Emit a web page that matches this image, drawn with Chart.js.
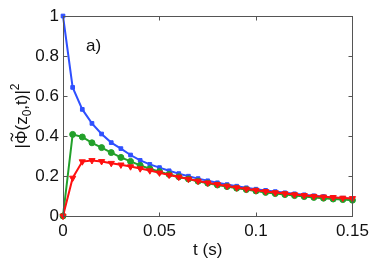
<!DOCTYPE html>
<html>
<head>
<meta charset="utf-8">
<script src="https://cdn.jsdelivr.net/npm/chart.js@4/dist/chart.umd.min.js"></script>
<style>
  html, body { margin: 0; padding: 0; background: #fff; }
  #wrap { width: 374px; height: 260px; }
</style>
</head>
<body>
<div id="wrap"><canvas id="c" width="374" height="260"></canvas></div>
<script>
// time axis (s) and |Phi~(z0,t)|^2 curves
const tValues = [0, 0.005, 0.01, 0.015, 0.02, 0.025, 0.03, 0.035, 0.04, 0.045, 0.05,
  0.055, 0.06, 0.065, 0.07, 0.075, 0.08, 0.085, 0.09, 0.095, 0.1,
  0.105, 0.11, 0.115, 0.12, 0.125, 0.13, 0.135, 0.14, 0.145, 0.15];

const blueVals = [1.0, 0.643, 0.533, 0.463, 0.41, 0.367, 0.337, 0.305, 0.278, 0.258, 0.242,
  0.226, 0.212, 0.199, 0.187, 0.176, 0.166, 0.157, 0.149, 0.141, 0.134,
  0.128, 0.122, 0.116, 0.111, 0.106, 0.101, 0.097, 0.093, 0.089, 0.086];

const greenVals = [0, 0.408, 0.395, 0.366, 0.342, 0.317, 0.293, 0.273, 0.253, 0.236, 0.222,
  0.208, 0.196, 0.185, 0.174, 0.164, 0.155, 0.147, 0.139, 0.132, 0.125,
  0.118, 0.112, 0.107, 0.102, 0.097, 0.093, 0.089, 0.085, 0.082, 0.079];

const redVals = [0, 0.19, 0.272, 0.278, 0.273, 0.264, 0.256, 0.247, 0.237, 0.227, 0.216,
  0.205, 0.195, 0.185, 0.175, 0.166, 0.158, 0.15, 0.142, 0.135, 0.129,
  0.123, 0.117, 0.112, 0.107, 0.103, 0.099, 0.096, 0.093, 0.09, 0.088];

const xTicks = [0, 0.05, 0.1, 0.15];
const yTicks = [0, 0.2, 0.4, 0.6, 0.8, 1];

const FONT = "'Liberation Sans', Arial, Helvetica, sans-serif";
const COLORS = { blue: "#2f50ff", green: "#22a02a", red: "#ff1010", axis: "#555", text: "#111" };

Chart.defaults.animation = false;
Chart.defaults.font.family = FONT;
Chart.defaults.color = COLORS.text;

function pts(vals) {
  return tValues.map((t, i) => ({ x: t, y: vals[i] }));
}

function series(vals, color, style, radius, order, rotation) {
  return {
    data: pts(vals),
    borderColor: color,
    backgroundColor: color,
    borderWidth: 2,
    pointStyle: style,
    pointRadius: radius,
    pointRotation: rotation || 0,
    pointBorderWidth: 1,
    order: order,
    clip: false,
  };
}

// box, inward ticks and the axis titles
const framePlugin = {
  id: "frame",
  afterDraw(chart) {
    const { ctx, chartArea: a, scales } = chart;
    ctx.save();
    ctx.strokeStyle = COLORS.axis;
    ctx.lineWidth = 1;
    const L = Math.round(a.left) + 0.5, R = Math.round(a.right) + 0.5;
    const T = Math.round(a.top) + 0.5, B = Math.round(a.bottom) + 0.5;
    ctx.strokeRect(L, T, R - L, B - T);
    ctx.beginPath();
    for (const v of xTicks) {
      const px = Math.round(scales.x.getPixelForValue(v)) + 0.5;
      ctx.moveTo(px, B); ctx.lineTo(px, B - 4);
      ctx.moveTo(px, T); ctx.lineTo(px, T + 4);
    }
    for (const v of yTicks) {
      const py = Math.round(scales.y.getPixelForValue(v)) + 0.5;
      ctx.moveTo(L, py); ctx.lineTo(L + 4, py);
      ctx.moveTo(R, py); ctx.lineTo(R - 4, py);
    }
    ctx.stroke();

    ctx.fillStyle = COLORS.text;
    ctx.font = "17px " + FONT;
    ctx.textBaseline = "middle";
    ctx.textAlign = "center";
    ctx.fillText("t (s)", (a.left + a.right) / 2, 250);

    ctx.textAlign = "left";
    ctx.fillText("a)", 86, 46);

    // y title: |Φ~(z0,t)|^2, rotated
    const segs = [
      { s: "|\u03a6", size: 17, dy: 0 },
      { s: "(z", size: 17, dy: 0 },
      { s: "0", size: 12, dy: 4 },
      { s: ",t)|", size: 17, dy: 0 },
      { s: "2", size: 12, dy: -8 },
    ];
    ctx.textBaseline = "alphabetic";
    let total = 0;
    for (const g of segs) {
      ctx.font = g.size + "px " + FONT;
      g.w = ctx.measureText(g.s).width;
      total += g.w;
    }
    ctx.translate(27, (a.top + a.bottom) / 2);
    ctx.rotate(-Math.PI / 2);
    let x = -total / 2;
    for (const g of segs) {
      ctx.font = g.size + "px " + FONT;
      ctx.fillText(g.s, x, g.dy);
      if (g.s === "|\u03a6") {
        ctx.font = "17px " + FONT;
        const barW = ctx.measureText("|").width;
        const phiW = ctx.measureText("\u03a6").width;
        const cx = x + barW + phiW / 2;
        // small tilde over the Phi
        ctx.beginPath();
        ctx.lineWidth = 1.2;
        ctx.strokeStyle = COLORS.text;
        ctx.moveTo(cx - 4, -14.5);
        ctx.bezierCurveTo(cx - 2, -17.5, cx, -15, cx + 1, -14.5);
        ctx.bezierCurveTo(cx + 2, -14, cx + 3, -14, cx + 4, -16.5);
        ctx.stroke();
      }
      x += g.w;
    }
    ctx.restore();
  },
};

new Chart(document.getElementById("c"), {
  type: "line",
  data: {
    datasets: [
      series(blueVals, COLORS.blue, "rect", 2.6, 3),
      series(greenVals, COLORS.green, "circle", 3, 2),
      series(redVals, COLORS.red, "triangle", 3.6, 1, 180),
    ],
  },
  options: {
    responsive: false,
    layout: { padding: { top: 16, right: 21, left: 0, bottom: 0 } },
    plugins: { legend: { display: false }, tooltip: { enabled: false } },
    scales: {
      x: {
        type: "linear",
        min: 0,
        max: 0.15,
        grid: { display: false, drawTicks: false },
        border: { display: false },
        afterBuildTicks: (s) => { s.ticks = xTicks.map((v) => ({ value: v })); },
        afterFit: (s) => { s.height = 44; },
        ticks: { font: { size: 17 }, padding: 5, maxRotation: 0, callback: (v) => String(v) },
      },
      y: {
        min: 0,
        max: 1,
        grid: { display: false, drawTicks: false },
        border: { display: false },
        afterBuildTicks: (s) => { s.ticks = yTicks.map((v) => ({ value: v })); },
        afterFit: (s) => { s.width = 63; },
        ticks: { font: { size: 17 }, padding: 4, callback: (v) => String(v) },
      },
    },
  },
  plugins: [framePlugin],
});
</script>
</body>
</html>
